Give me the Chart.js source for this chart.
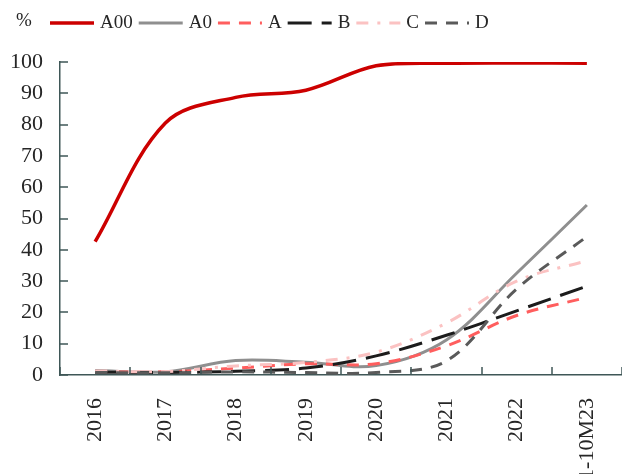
<!DOCTYPE html>
<html>
<head>
<meta charset="utf-8">
<script src="https://cdn.jsdelivr.net/npm/chart.js@4/dist/chart.umd.min.js"></script>
<style>
  html, body { margin: 0; padding: 0; background: #ffffff; }
  #wrap { width: 622px; height: 474px; }
</style>
</head>
<body>
<div id="wrap"><canvas id="chart" width="622" height="474"></canvas></div>
<script>
// Penetration share by segment, %
const categories = ['2016', '2017', '2018', '2019', '2020', '2021', '2022', '1-10M23'];
const yTicks = [0, 10, 20, 30, 40, 50, 60, 70, 80, 90, 100];

const seriesA00 = [42.6, 80.5, 88.7, 91.0, 98.8, 99.6, 99.7, 99.6];
const seriesA0  = [1.4, 1.0, 4.6, 4.1, 3.0, 11.2, 32.5, 54.3];
const seriesA   = [1.0, 1.0, 2.2, 3.6, 3.6, 9.3, 19.0, 24.8];
const seriesB   = [0.9, 0.8, 1.2, 2.2, 6.1, 12.7, 20.5, 28.4];
const seriesC   = [1.3, 1.1, 2.9, 4.0, 7.3, 16.6, 30.0, 36.5];
const seriesD   = [0.8, 0.7, 1.0, 0.8, 0.8, 4.5, 27.5, 44.2];

const SERIF = '"Liberation Serif", "Times New Roman", serif';
const AXIS_COLOR = '#3f5757';
const TEXT_COLOR = '#262626';
const TICK_LEN = 8;

function lineSet(label, data, color, dash, width, order) {
  return {
    label, data,
    borderColor: color,
    backgroundColor: color,
    borderWidth: width,
    borderDash: dash,
    borderCapStyle: 'butt',
    pointRadius: 0,
    pointHoverRadius: 0,
    tension: 0.35,
    fill: false,
    order
  };
}

// Legend row across the top, with the unit marker on the left
const topLegend = {
  id: 'topLegend',
  afterDraw(chart) {
    const ctx = chart.ctx;
    ctx.save();
    ctx.font = '19px ' + SERIF;
    ctx.textBaseline = 'middle';
    ctx.fillStyle = TEXT_COLOR;
    ctx.fillText('%', 16, 21);
    let x = 50;
    const y = 23;
    chart.data.datasets.forEach(ds => {
      ctx.save();
      ctx.strokeStyle = ds.borderColor;
      ctx.lineWidth = ds.borderWidth;
      ctx.lineCap = 'butt';
      ctx.setLineDash(ds.borderDash || []);
      ctx.beginPath();
      ctx.moveTo(x, y);
      ctx.lineTo(x + 44, y);
      ctx.stroke();
      ctx.restore();
      x += 50;
      ctx.fillText(ds.label, x, y);
      x += ctx.measureText(ds.label).width + 6;
    });
    ctx.restore();
  }
};

// Tick marks that point into the plot area from both axes
const innerTicks = {
  id: 'innerTicks',
  afterDraw(chart) {
    const { ctx, scales: { x, y } } = chart;
    ctx.save();
    ctx.strokeStyle = AXIS_COLOR;
    ctx.lineWidth = 1.5;
    ctx.beginPath();
    const n = x.ticks.length;
    const step = (x.right - x.left) / n;
    for (let i = 0; i <= n; i++) {
      const px = Math.round(x.left + i * step);
      ctx.moveTo(px, y.bottom);
      ctx.lineTo(px, y.bottom - TICK_LEN);
    }
    y.ticks.forEach(t => {
      const py = Math.round(y.getPixelForValue(t.value));
      ctx.moveTo(x.left, py);
      ctx.lineTo(x.left + TICK_LEN, py);
    });
    ctx.stroke();
    ctx.restore();
  }
};

new Chart(document.getElementById('chart'), {
  type: 'line',
  data: {
    labels: categories,
    datasets: [
      lineSet('A00', seriesA00, '#cc0000', [], 3.5, 6),
      lineSet('A0',  seriesA0,  '#8f8f8f', [], 3, 5),
      lineSet('A',   seriesA,   '#ff5e5e', [12, 9], 3, 4),
      lineSet('B',   seriesB,   '#1c1c1c', [24, 10], 3, 3),
      lineSet('C',   seriesC,   '#fbc2c2', [12, 9, 3, 9], 3, 2),
      lineSet('D',   seriesD,   '#5a5a5a', [12, 9], 3, 1)
    ]
  },
  options: {
    responsive: false,
    animation: false,
    layout: { padding: { top: 62, right: 0, left: 0, bottom: 0 } },
    plugins: {
      legend: { display: false },
      tooltip: { enabled: false }
    },
    scales: {
      x: {
        type: 'category',
        offset: true,
        afterFit(scale) {
          scale.height = 99;
          scale.paddingLeft = 0;
          scale.paddingRight = 0;
        },
        border: { display: true, color: AXIS_COLOR, width: 1.5 },
        grid: { display: false, drawTicks: false },
        ticks: {
          autoSkip: false,
          minRotation: 90,
          maxRotation: 90,
          padding: 23,
          color: TEXT_COLOR,
          font: { family: SERIF, size: 22 }
        }
      },
      y: {
        min: 0,
        max: 100,
        afterFit(scale) { scale.width = 60; },
        afterBuildTicks(scale) { scale.ticks = yTicks.map(v => ({ value: v })); },
        border: { display: true, color: AXIS_COLOR, width: 1.5 },
        grid: { display: false, drawTicks: false },
        ticks: {
          padding: 17,
          color: TEXT_COLOR,
          font: { family: SERIF, size: 22 }
        }
      }
    }
  },
  plugins: [innerTicks, topLegend]
});
</script>
</body>
</html>
